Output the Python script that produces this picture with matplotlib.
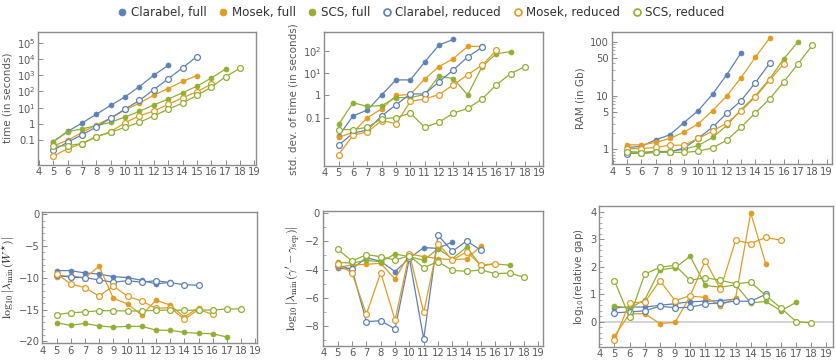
import matplotlib
matplotlib.use("Agg")
import matplotlib.pyplot as plt
from matplotlib.ticker import FixedLocator, FixedFormatter, MultipleLocator, NullFormatter
from matplotlib.lines import Line2D

plt.rcParams['font.family'] = ['DejaVu Sans']
plt.rcParams['mathtext.fontset'] = 'dejavusans'

# ---------------- data ----------------
series_labels = ["Clarabel, full", "Mosek, full", "SCS, full",
                 "Clarabel, reduced", "Mosek, reduced", "SCS, reduced"]
x_ticks = list(range(4, 20))

# time (seconds)
time_cf = [0.08, 0.35, 1.15, 4, 14, 47, 200, 1000, 4000]
time_mf = [0.045, 0.1, 0.3, 0.9, 2.3, 7.5, 19, 60, 150, 410, 950]
time_sf = [0.083, 0.34, 0.5, 0.8, 1.27, 2.7, 6, 15, 34, 83, 210, 660, 2400]
time_cr = [0.025, 0.075, 0.22, 0.65, 2.3, 8.3, 28, 130, 600, 2800, 14000]
time_mr = [0.0105, 0.031, 0.063, 0.16, 0.34, 1.2, 3.2, 6.3, 16, 41, 95, 280]
time_sr = [0.043, 0.047, 0.063, 0.17, 0.31, 0.63, 1.27, 3.2, 8, 19.5, 57, 185, 800, 2700]

# std. dev. of time (seconds)
std_cf = [0.015, 0.12, 0.22, 1.07, 5, 5, 32, 185, 330]
std_mf = [0.013, 0.022, 0.1, 0.25, 1.0, 1.1, 5.5, 20, 45, 160, 160]
std_sf = [0.05, 0.47, 0.32, 0.35, 0.8, 0.8, 1.1, 7.5, 5.7, 1.05, 20, 75, 93]
std_cr = [0.0058, 0.02, 0.028, 0.12, 0.38, 1.17, 1.17, 4.1, 14, 54, 145]
std_mr = [0.0022, 0.016, 0.023, 0.074, 0.054, 0.54, 0.69, 1.1, 3, 8.5, 23, 105]
std_sr = [0.029, 0.029, 0.037, 0.09, 0.1, 0.16, 0.037, 0.063, 0.16, 0.26, 0.69, 3, 9.6, 20]

# RAM (Gb)
ram_cf = [1.09, 1.14, 1.51, 1.87, 3.17, 5.3, 10.7, 24.7, 63]
ram_mf = [1.22, 1.22, 1.35, 1.6, 2.1, 3.0, 5.3, 9.9, 21.8, 52, 118]
ram_sf = [0.92, 0.89, 0.92, 0.92, 1.01, 1.19, 1.67, 2.8, 5.5, 10, 20.5, 49, 101]
ram_cr = [0.84, 0.85, 0.89, 0.9, 1.06, 1.62, 2.6, 4.7, 8.1, 17.5, 40]
ram_mr = [1.04, 1.04, 1.09, 1.2, 1.2, 1.6, 2.2, 3.1, 5.2, 9.5, 19.4, 39.6]
ram_sr = [0.88, 0.85, 0.88, 0.89, 0.88, 0.93, 1.07, 1.49, 2.6, 4.8, 8.7, 18.3, 39.6, 87]

# log10 |lambda_min(W*)|
lw_cf = [-8.87, -8.87, -9.24, -9.4, -9.82, -9.97, -10.39, -10.97, -10.7]
lw_mf = [-9.87, -9.66, -10.03, -8.19, -13.23, -14.12, -15.85, -13.54, -14.28, -16.17, -14.7]
lw_sf = [-17.06, -17.48, -17.17, -17.59, -17.74, -17.64, -17.64, -18.22, -18.27, -18.58, -18.74, -18.79, -19.32]
lw_cr = [-9.55, -9.92, -9.97, -10.34, -10.7, -10.45, -10.7, -10.45, -10.76, -11.08, -11.18]
lw_mr = [-9.34, -10.97, -11.55, -12.86, -11.29, -12.91, -13.65, -14.8, -14.7, -16.5, -15.0, -15.75]
lw_sr = [-15.8, -15.49, -15.38, -15.17, -15.17, -15.22, -15.22, -15.12, -15.07, -15.12, -15.07, -15.07, -14.9, -14.9]

# log10 |lambda_min(gamma' - gamma_sep)|
lg_cf = [-3.92, -3.96, -3.16, -3.42, -4.15, -3.2, -2.45, -2.5, -2.05]
lg_mf = [-3.84, -3.68, -3.63, -3.56, -4.67, -2.9, -3.09, -3.23, -3.3, -3.25, -2.33]
lg_sf = [-3.49, -3.55, -3.35, -3.45, -2.9, -3.09, -3.35, -2.52, -3.23, -2.41, -3.75, -3.6, -3.7]
lg_cr = [-3.7, -3.99, -7.69, -7.62, -8.21, -3.2, -8.92, -1.58, -2.71, -1.98, -2.64]
lg_mr = [-3.63, -4.25, -7.17, -4.22, -7.57, -2.88, -7.03, -2.17, -3.33, -2.74, -3.7, -3.58]
lg_sr = [-2.57, -3.4, -2.95, -3.09, -3.33, -3.02, -3.87, -3.44, -4.06, -4.13, -4.03, -4.29, -4.25, -4.55]

# log10(relative gap)
rg_cf = [0.51, 0.54, 0.54, 0.6, 0.66, 0.73, 0.75, 0.77, 0.82]
rg_mf = [-0.51, 0.29, 0.3, -0.06, -0.02, 0.93, 0.89, 0.59, 0.87, 3.95, 2.09]
rg_sf = [0.57, 0.5, 0.8, 1.89, 1.96, 2.38, 1.32, 1.26, 1.34, 0.69, 0.74, 0.4, 0.71]
rg_cr = [0.33, 0.36, 0.4, 0.57, 0.51, 0.53, 0.65, 0.69, 0.75, 0.75, 1.0]
rg_mr = [-0.66, 0.7, 0.71, 1.5, 0.77, 0.95, 2.22, 1.18, 2.96, 2.84, 3.06, 2.96]
rg_sr = [1.49, 0.17, 1.73, 1.98, 2.05, 1.51, 1.6, 1.51, 1.38, 1.44, 0.95, 0.5, 0.01, -0.04]

# ---------------- style ----------------
BLUE = (0.368417, 0.506779, 0.709798)
ORANGE = (0.880722, 0.611041, 0.142051)
GREEN = (0.560181, 0.691569, 0.194885)
colors = [BLUE, ORANGE, GREEN, BLUE, ORANGE, GREEN]
filled = [True, True, True, False, False, False]
FRAME = '#8c8c8c'
TXT = '#5a5a5a'

fig = plt.figure(figsize=(8.36, 3.64), dpi=100)

positions = [
    [0.046, 0.5475, 0.260, 0.3654],
    [0.388, 0.5448, 0.262, 0.3665],
    [0.7317, 0.5495, 0.2635, 0.3618],
    [0.0506, 0.0569, 0.2565, 0.3607],
    [0.386, 0.0503, 0.2639, 0.370],
    [0.7169, 0.0475, 0.280, 0.3865],
]
xlims = [(3.97, 19.1), (4.0, 19.28), (3.93, 19.37),
         (4.0, 19.1), (3.95, 19.35), (4.0, 19.46)]

panels = [
    [time_cf, time_mf, time_sf, time_cr, time_mr, time_sr],
    [std_cf, std_mf, std_sf, std_cr, std_mr, std_sr],
    [ram_cf, ram_mf, ram_sf, ram_cr, ram_mr, ram_sr],
    [lw_cf, lw_mf, lw_sf, lw_cr, lw_mr, lw_sr],
    [lg_cf, lg_mf, lg_sf, lg_cr, lg_mr, lg_sr],
    [rg_cf, rg_mf, rg_sf, rg_cr, rg_mr, rg_sr],
]

axes = []
for pos, xl, data in zip(positions, xlims, panels):
    ax = fig.add_axes(pos)
    axes.append(ax)
    for vals, col, fl in zip(data, colors, filled):
        xs = list(range(5, 5 + len(vals)))
        ax.plot(xs, vals, color=col, lw=0.9, marker='o',
                markersize=3.6 if fl else 4.2,
                markerfacecolor=col if fl else 'white',
                markeredgecolor=col, markeredgewidth=0.9 if not fl else 0.5,
                zorder=3)
    ax.set_xlim(*xl)
    ax.xaxis.set_major_locator(FixedLocator(x_ticks))
    for sp in ax.spines.values():
        sp.set_color(FRAME)
        sp.set_linewidth(1.0)
    ax.tick_params(axis='both', which='both', direction='in', colors=FRAME,
                   labelcolor=TXT, labelsize=7.2, top=False, right=False, pad=2)
    ax.tick_params(which='major', length=3.5, width=0.7)
    ax.tick_params(which='minor', length=2, width=0.5)

# time panel
ax = axes[0]
ax.set_yscale('log')
ax.set_ylim(10 ** -2.5, 10 ** 5.67)
ax.yaxis.set_major_locator(FixedLocator([0.1, 1, 10, 1e2, 1e3, 1e4, 1e5]))
ax.yaxis.set_major_formatter(FixedFormatter(['0.1', '1', r'$10^{1}$', r'$10^{2}$',
                                             r'$10^{3}$', r'$10^{4}$', r'$10^{5}$']))
ax.yaxis.set_minor_locator(FixedLocator([]))
ax.set_ylabel('time (in seconds)', color=TXT, fontsize=7.5, labelpad=3)

# std panel
ax = axes[1]
ax.set_yscale('log')
ax.set_ylim(10 ** -3.16, 10 ** 2.84)
ax.yaxis.set_major_locator(FixedLocator([0.1, 1, 10, 100]))
ax.yaxis.set_major_formatter(FixedFormatter(['0.1', '1', r'$10^{1}$', r'$10^{2}$']))
ax.yaxis.set_minor_locator(FixedLocator([]))
ax.set_ylabel('std. dev. of time (in seconds)', color=TXT, fontsize=7.5, labelpad=3)

# RAM panel
ax = axes[2]
ax.set_yscale('log')
ax.set_ylim(10 ** -0.27, 10 ** 2.18)
ax.yaxis.set_major_locator(FixedLocator([1, 5, 10, 50, 100]))
ax.yaxis.set_major_formatter(FixedFormatter(['1', '5', '10', '50', '100']))
minor = [0.6, 0.7, 0.8, 0.9, 2, 3, 4, 6, 7, 8, 9, 20, 30, 40, 60, 70, 80, 90]
ax.yaxis.set_minor_locator(FixedLocator(minor))
ax.yaxis.set_minor_formatter(NullFormatter())
ax.set_ylabel('RAM (in Gb)', color=TXT, fontsize=7.5, labelpad=3)

# lambda W panel
ax = axes[3]
ax.set_ylim(-20.3, 0.35)
ax.set_yticks([-20, -15, -10, -5, 0])
ax.set_yticklabels(['\u221220', '\u221215', '\u221210', '\u22125', '0'])
ax.yaxis.set_minor_locator(MultipleLocator(1))
ax.set_ylabel(r'$\log_{10}|\lambda_{\min}(W^{\star})|$', color='#222222', fontsize=8.5,
              labelpad=2, math_fontfamily='cm')

# lambda gamma panel
ax = axes[4]
ax.set_ylim(-9.39, 0.14)
ax.set_yticks([-8, -6, -4, -2, 0])
ax.set_yticklabels(['\u22128', '\u22126', '\u22124', '\u22122', '0'])
ax.yaxis.set_minor_locator(MultipleLocator(1))
ax.set_ylabel(r"$\log_{10}|\lambda_{\min}(\gamma' - \gamma_{\mathrm{sep}})|$", color='#222222',
              fontsize=8.5, labelpad=2, math_fontfamily='cm')

# relative gap panel
ax = axes[5]
ax.set_ylim(-0.9, 4.2)
ax.set_yticks([0, 1, 2, 3, 4])
ax.yaxis.set_minor_locator(MultipleLocator(0.2))
ax.axhline(0, color='#cccccc', lw=1.2, zorder=1)
ax.set_ylabel(r'log$_{10}$(relative gap)', color=TXT, fontsize=7.5, labelpad=3)

# legend
handles = []
for lab, col, fl in zip(series_labels, colors, filled):
    handles.append(Line2D([], [], linestyle='none', marker='o', markersize=5,
                          markerfacecolor=col if fl else 'white',
                          markeredgecolor=col, markeredgewidth=1.2 if not fl else 0.5,
                          label=lab))
fig.legend(handles=handles, loc='center', bbox_to_anchor=(0.503, 0.965), ncol=6,
           frameon=False, fontsize=8.6, handletextpad=0.2, columnspacing=0.9,
           handlelength=1.0, labelcolor='#333333')

fig.savefig('out.png', dpi=100)
